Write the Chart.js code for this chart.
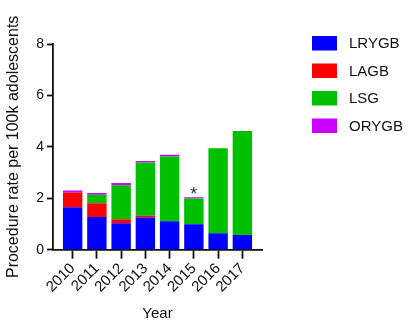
<!DOCTYPE html>
<html>
<head>
<meta charset="utf-8">
<script src="https://cdn.jsdelivr.net/npm/chart.js@4.4.0/dist/chart.umd.min.js"></script>
<style>
  html, body { margin: 0; padding: 0; background: #fff; }
  #wrap { width: 410px; height: 324px; }
</style>
</head>
<body>
<div id="wrap"><canvas id="grafico"></canvas></div>
<script>
// anos e taxas por procedimento (por 100k adolescentes)
var anos = ["2010", "2011", "2012", "2013", "2014", "2015", "2016", "2017"];
var dadosLRYGB = [1.65, 1.27, 1.03, 1.25, 1.11, 0.99, 0.64, 0.57];
var dadosLAGB = [0.57, 0.54, 0.15, 0.07, 0, 0, 0, 0];
var dadosLSG = [0, 0.33, 1.33, 2.07, 2.51, 1.00, 3.31, 4.05];
var dadosORYGB = [0.08, 0.07, 0.08, 0.06, 0.07, 0.05, 0, 0];
var ticksY = [0, 2, 4, 6, 8];
var anoAsterisco = "2015";

var fonte = "'Liberation Sans', Arial, Helvetica, sans-serif";

// legenda desenhada à direita da área do gráfico
var legendaLateral = {
  id: "legendaLateral",
  afterDraw: function (chart) {
    var ctx = chart.ctx;
    var area = chart.chartArea;
    var x0 = area.right + 50;
    var y0 = area.top - 8;
    ctx.save();
    ctx.font = "15px " + fonte;
    ctx.textBaseline = "middle";
    ctx.textAlign = "left";
    chart.data.datasets.forEach(function (ds, i) {
      var y = y0 + i * 27.5;
      ctx.fillStyle = ds.backgroundColor;
      ctx.fillRect(x0, y, 25, 14.5);
      ctx.fillStyle = "#111";
      ctx.fillText(ds.label, x0 + 37, y + 8);
    });
    ctx.restore();
  },
};

// asterisco sobre a barra de 2015
var asterisco = {
  id: "asterisco",
  afterDatasetsDraw: function (chart) {
    var i = anos.indexOf(anoAsterisco);
    var total = 0;
    chart.data.datasets.forEach(function (ds) { total += ds.data[i]; });
    var x = chart.scales.x.getPixelForValue(+anoAsterisco);
    var y = chart.scales.y.getPixelForValue(total);
    var ctx = chart.ctx;
    ctx.save();
    ctx.font = "18px " + fonte;
    ctx.fillStyle = "#333";
    ctx.textAlign = "center";
    ctx.textBaseline = "middle";
    ctx.fillText("*", x, y - 2);
    ctx.restore();
  },
};

var ctx = document.getElementById("grafico").getContext("2d");

var grafico = new Chart(ctx, {
  type: "bar",
  data: {
    labels: anos,
    datasets: [
      { label: "LRYGB", data: dadosLRYGB, backgroundColor: "#0000FF" },
      { label: "LAGB", data: dadosLAGB, backgroundColor: "#FF0000" },
      { label: "LSG", data: dadosLSG, backgroundColor: "#00C000" },
      { label: "ORYGB", data: dadosORYGB, backgroundColor: "#CC00FF" },
    ],
  },
  options: {
    responsive: true,
    maintainAspectRatio: false,
    animation: false,
    categoryPercentage: 1,
    barPercentage: 0.8,
    layout: { padding: { top: 44, right: 148, bottom: 0, left: 0 } },
    plugins: {
      legend: { display: false },
      tooltip: { enabled: false },
    },
    scales: {
      x: {
        type: "linear",
        stacked: true,
        offset: false,
        min: 2010 - 0.81,
        max: 2017 + 0.81,
        afterBuildTicks: function (scale) {
          scale.ticks = anos.map(function (a) { return { value: +a }; });
        },
        afterFit: function (scale) { scale.height = 74.3; },
        grid: { display: true, drawOnChartArea: false, offset: false, tickLength: 9, tickWidth: 1.8, tickColor: "#111" },
        border: { color: "#111", width: 1.8 },
        ticks: {
          autoSkip: false,
          minRotation: 45,
          maxRotation: 45,
          padding: 1,
          color: "#111",
          font: { family: fonte, size: 15 },
          callback: function (v) { return String(v); },
        },
        title: {
          display: true,
          text: "Year",
          color: "#111",
          font: { family: fonte, size: 15 },
          padding: { top: 0, bottom: 1 },
        },
      },
      y: {
        stacked: true,
        min: 0,
        max: 8,
        afterBuildTicks: function (scale) {
          scale.ticks = ticksY.map(function (v) { return { value: v }; });
        },
        afterFit: function (scale) { scale.width = 53; },
        grid: { display: true, drawOnChartArea: false, tickLength: 6, tickWidth: 1.8, tickColor: "#111" },
        border: { color: "#111", width: 1.8 },
        ticks: {
          padding: 3,
          color: "#111",
          font: { family: fonte, size: 14 },
        },
        title: {
          display: true,
          text: "Procedure rate per 100k adolescents",
          color: "#111",
          font: { family: fonte, size: 16 },
          padding: { top: 4, bottom: 0 },
        },
      },
    },
  },
  plugins: [legendaLateral, asterisco],
});
</script>
</body>
</html>
